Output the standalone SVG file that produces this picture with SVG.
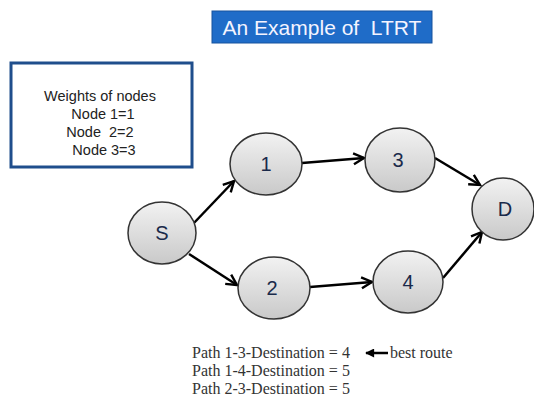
<svg xmlns="http://www.w3.org/2000/svg" width="534" height="399" viewBox="0 0 534 399">
<defs>
<linearGradient id="g" x1="0" y1="0" x2="0" y2="1">
<stop offset="0" stop-color="#f2f2f2"/>
<stop offset="1" stop-color="#c9c9c9"/>
</linearGradient>
<marker id="ah" viewBox="0 0 14 14" refX="12" refY="7" markerWidth="14" markerHeight="14" markerUnits="userSpaceOnUse" orient="auto">
<path d="M1.5,1.5 L12,7 L1.5,12.5" fill="none" stroke="#000" stroke-width="2.4"/>
</marker>
<marker id="ah2" viewBox="0 0 10 10" refX="9" refY="5" markerWidth="10" markerHeight="9" markerUnits="userSpaceOnUse" orient="auto">
<path d="M0,0 L10,5 L0,10 Z" fill="#000"/>
</marker>
</defs>
<style>
.node ellipse{fill:url(#g);stroke:#333;stroke-width:1.5}
.node text{font-family:"Liberation Sans",Arial,sans-serif;font-size:20px;fill:#1a2a4a;text-anchor:middle}
.conn line{stroke:#000;stroke-width:2.5;marker-end:url(#ah)}
.w{font-family:"Liberation Sans",Arial,sans-serif;font-size:14.5px;fill:#222;text-anchor:middle;white-space:pre}
.p{font-family:"Liberation Serif","Times New Roman",serif;font-size:16px;fill:#333}
</style>
<rect width="534" height="399" fill="#fff"/>
<g id="title">
<rect x="212" y="11" width="220" height="32" fill="#1f6cc8" stroke="#16539e" stroke-width="1"/>
<text x="322" y="35" font-family="'Liberation Sans',Arial,sans-serif" font-size="21" fill="#f4f4ff" text-anchor="middle" style="white-space:pre" xml:space="preserve">An Example of  LTRT</text>
</g>
<g id="weights">
<rect x="11" y="63" width="181" height="104" fill="#fff" stroke="#1f4e8c" stroke-width="3"/>
<text class="w" x="100" y="101">Weights of nodes</text>
<text class="w" x="103" y="119">Node 1=1</text>
<text class="w" x="100" y="137" xml:space="preserve">Node  2=2</text>
<text class="w" x="104" y="155">Node 3=3</text>
</g>
<g id="connectors" class="conn">
<line x1="193" y1="224" x2="234" y2="181"/>
<line x1="189" y1="254" x2="237" y2="285"/>
<line x1="302" y1="163" x2="364" y2="158"/>
<line x1="310" y1="287" x2="372" y2="282"/>
<line x1="435" y1="158" x2="480" y2="185"/>
<line x1="443" y1="278" x2="482" y2="232"/>
</g>
<g id="node-S" class="node"><ellipse cx="162" cy="233" rx="34" ry="31"/><text x="162" y="240">S</text></g>
<g id="node-1" class="node"><ellipse cx="266" cy="164" rx="36" ry="31"/><text x="266" y="171">1</text></g>
<g id="node-2" class="node"><ellipse cx="274" cy="288" rx="36" ry="31"/><text x="272" y="295">2</text></g>
<g id="node-3" class="node"><ellipse cx="400" cy="160" rx="35" ry="32"/><text x="398" y="167">3</text></g>
<g id="node-4" class="node"><ellipse cx="408" cy="282" rx="35" ry="31"/><text x="408" y="289">4</text></g>
<g id="node-D" class="node"><ellipse cx="503" cy="209" rx="31" ry="31"/><text x="505" y="216">D</text></g>
<g id="paths">
<text class="p" x="192" y="358">Path 1-3-Destination = 4</text>
<text class="p" x="192" y="376">Path 1-4-Destination = 5</text>
<text class="p" x="192" y="394">Path 2-3-Destination = 5</text>
<line x1="388" y1="353" x2="366" y2="353" stroke="#000" stroke-width="2.5" marker-end="url(#ah2)"/>
<text class="p" x="390" y="358">best route</text>
</g>
</svg>
